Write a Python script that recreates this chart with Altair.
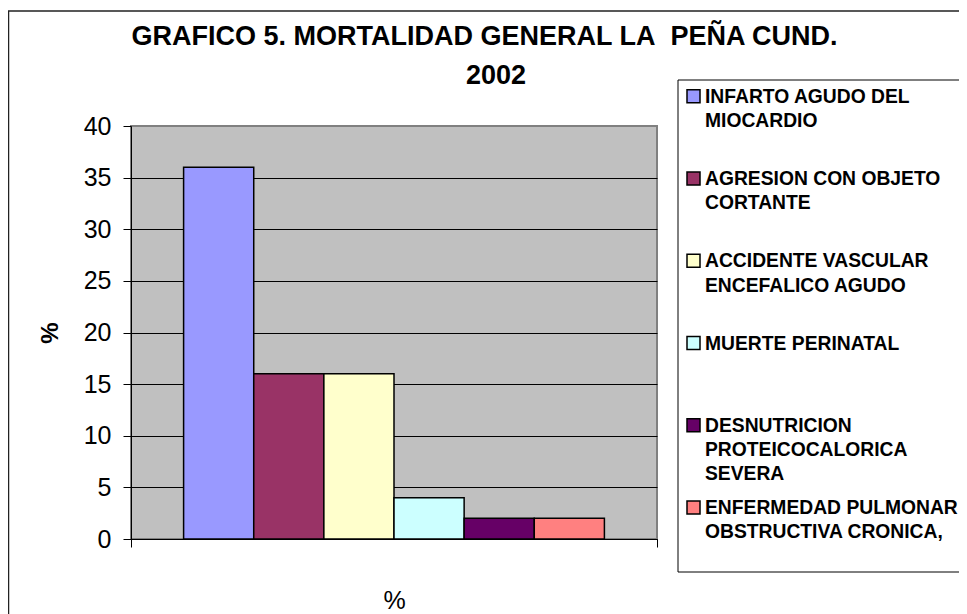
import altair as alt
import pandas as pd

# ---- data ----
causes = [
    "INFARTO AGUDO DEL MIOCARDIO",
    "AGRESION CON OBJETO CORTANTE",
    "ACCIDENTE VASCULAR ENCEFALICO AGUDO",
    "MUERTE PERINATAL",
    "DESNUTRICION PROTEICOCALORICA SEVERA",
    "ENFERMEDAD PULMONAR OBSTRUCTIVA CRONICA,",
]
legend_labels = [
    "INFARTO AGUDO DEL\nMIOCARDIO",
    "AGRESION CON OBJETO\nCORTANTE",
    "ACCIDENTE VASCULAR\nENCEFALICO AGUDO",
    "MUERTE PERINATAL",
    "DESNUTRICION\nPROTEICOCALORICA\nSEVERA",
    "ENFERMEDAD PULMONAR\nOBSTRUCTIVA CRONICA,",
]
percent = [36, 16, 16, 4, 2, 2]
colors = ["#9999FF", "#993366", "#FFFFCC", "#CCFFFF", "#660066", "#FF8080"]
category = "%"
y_ticks = [0, 5, 10, 15, 20, 25, 30, 35, 40]
title_line1 = "GRAFICO 5. MORTALIDAD GENERAL LA\u00a0 PEÑA CUND."
title_line2 = "2002"

df = pd.DataFrame({
    "cause": causes,
    "label": legend_labels,
    "pct": percent,
    "cat": [category] * len(causes),
    "idx": list(range(len(causes))),
})
one = pd.DataFrame({"k": [0]})

FONT = "Liberation Sans"
W, H = 526, 413
color_scale = alt.Scale(domain=causes, range=colors)

# outer chart frame
frame = alt.Chart(one).mark_rect(filled=False, stroke="#222222", strokeWidth=1.5).encode(
    x=alt.value(-122.5), x2=alt.value(1100), y=alt.value(-115), y2=alt.value(900)
)

bars = alt.Chart(df).mark_bar(stroke="black", strokeWidth=1.5).encode(
    x=alt.X(
        "cat:N",
        scale=alt.Scale(paddingInner=0, paddingOuter=0),
        axis=alt.Axis(
            title=None, labelAngle=0, labelFont=FONT, labelFontSize=25,
            labelColor="black", labelPadding=41, tickBand="extent", tickSize=8,
            tickColor="black", domainColor="black", grid=False,
        ),
    ),
    xOffset=alt.XOffset("cause:N", sort=causes,
                        scale=alt.Scale(paddingInner=0, paddingOuter=0.75)),
    y=alt.Y(
        "pct:Q",
        scale=alt.Scale(domain=[0, 40]),
        axis=alt.Axis(
            values=y_ticks, title="%", titleFont=FONT, titleFontSize=24,
            titleFontWeight="bold", titleColor="black", titlePadding=21,
            labelFont=FONT, labelFontSize=25, labelColor="black", labelPadding=12,
            tickSize=8, tickColor="black", domainColor="black", grid=True,
            gridColor={"condition": {"test": "datum.value === 40", "value": "#808080"},
                       "value": "black"},
            gridOpacity=1,
        ),
    ),
    color=alt.Color("cause:N", scale=color_scale, legend=None),
)

title_style = dict(align="center", baseline="top", font=FONT, fontSize=27,
                   fontWeight="bold", color="black")
title1 = alt.Chart(one).mark_text(**title_style).encode(
    x=alt.value(353.5), y=alt.value(-102), text=alt.value(title_line1)
)
title2 = alt.Chart(one).mark_text(**title_style).encode(
    x=alt.value(365), y=alt.value(-63), text=alt.value(title_line2)
)

legend_box = alt.Chart(one).mark_rect(fill="white", stroke="black", strokeWidth=1).encode(
    x=alt.value(547), x2=alt.value(1100), y=alt.value(-46), y2=alt.value(446)
)

leg_y = alt.Y("idx:Q", scale=alt.Scale(domain=[0, 5], range=[-29.7, 381.5]), axis=None)

swatches = alt.Chart(df).mark_square(size=169, stroke="black", strokeWidth=1.5, opacity=1).encode(
    x=alt.value(562.5), y=leg_y,
    color=alt.Color("cause:N", scale=color_scale, legend=None),
)

leg_text = alt.Chart(df).mark_text(
    align="left", baseline="top", font=FONT, fontSize=19.3, fontWeight="bold",
    lineBreak="\n", lineHeight=24.3, dy=-8.5, color="black",
).encode(x=alt.value(574), y=leg_y, text="label:N")

chart = (
    alt.layer(frame, bars, title1, title2, legend_box, swatches, leg_text)
    .resolve_scale(y="independent", color="shared")
    .properties(
        width=W, height=H,
        autosize=alt.AutoSizeParams(type="none"),
        padding={"left": 123, "top": 118, "right": 302, "bottom": 90},
        background="white",
    )
    .configure_view(fill="#C0C0C0", stroke="#808080", strokeWidth=2)
)

chart.save("out.html", embed_options={"renderer": "svg", "actions": False})
